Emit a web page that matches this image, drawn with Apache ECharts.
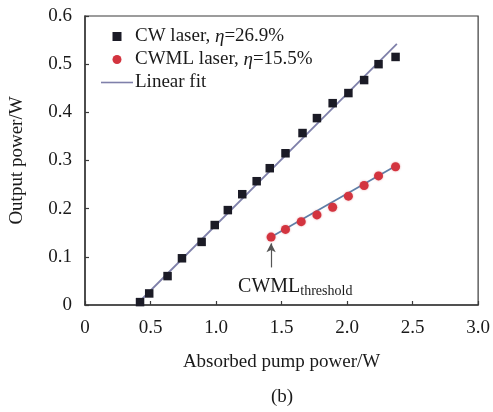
<!DOCTYPE html>
<html>
<head>
<meta charset="utf-8">
<script src="https://cdn.jsdelivr.net/npm/echarts@6/dist/echarts.min.js"></script>
<style>
  html, body { margin: 0; padding: 0; background: #fff; }
  #main { width: 493px; height: 412px; }
</style>
</head>
<body>
<div id="main"></div>
<script>
// CW laser 数据
var cwPump = [0.42, 0.49, 0.63, 0.74, 0.89, 0.99, 1.09, 1.20, 1.31, 1.41, 1.53, 1.66, 1.77, 1.89, 2.01, 2.13, 2.24, 2.37];
var cwPower = [0.006, 0.024, 0.060, 0.097, 0.131, 0.166, 0.197, 0.230, 0.257, 0.284, 0.315, 0.357, 0.388, 0.419, 0.440, 0.467, 0.500, 0.515];
// CWML laser 数据
var cwmlPump = [1.42, 1.53, 1.65, 1.77, 1.89, 2.01, 2.13, 2.24, 2.37];
var cwmlPower = [0.141, 0.157, 0.173, 0.187, 0.203, 0.226, 0.248, 0.268, 0.287];
// 线性拟合端点
var cwFitX = [0.39, 2.38];
var cwFitY = [0, 0.542];
var cwmlFitX = [1.42, 2.38];
var cwmlFitY = [0.141, 0.290];
// 阈值箭头
var arrowX = 1.42;
var arrowY = [0.078, 0.128];

var FONT = '"Liberation Serif", "Times New Roman", serif';
var AXIS_COLOR = '#3a3a3a';

function pairs(xs, ys) {
  return xs.map(function(x, i) { return [x, ys[i]]; });
}

var chart = echarts.init(document.getElementById('main'));

var legendText = {
  'CW': 'CW laser, {i|η}=26.9%',
  'CWML': 'CWML laser, {i|η}=15.5%',
  'Linear fit': 'Linear fit'
};

var option = {
  animation: false,
  textStyle: { fontFamily: FONT },
  grid: {
    left: 85, right: 13, top: 16, bottom: 107,
    show: true,
    borderColor: AXIS_COLOR,
    borderWidth: 1.2
  },
  legend: {
    orient: 'vertical',
    left: 96, top: 22,
    itemGap: 4,
    itemWidth: 32,
    itemHeight: 9,
    data: [
      { name: 'CW', icon: 'path://M0,0H10V10H0Z' },
      { name: 'CWML', icon: 'circle' },
      { name: 'Linear fit', icon: 'path://M0,0H60V3H0Z' }
    ],
    formatter: function(name) { return legendText[name]; },
    textStyle: {
      fontFamily: FONT, fontSize: 19, color: '#1a1a1a', padding: [0, 0, 0, -3],
      rich: { i: { fontFamily: FONT, fontSize: 19, fontStyle: 'italic', color: '#1a1a1a' } }
    }
  },
  xAxis: {
    type: 'value',
    min: 0, max: 3, interval: 0.5,
    name: 'Absorbed pump power/W',
    nameLocation: 'middle',
    nameGap: 48,
    nameTextStyle: { fontFamily: FONT, fontSize: 19, color: '#1a1a1a' },
    axisLine: { show: true, lineStyle: { color: AXIS_COLOR, width: 1.5 } },
    axisTick: { show: true, inside: true, length: 4, lineStyle: { color: AXIS_COLOR, width: 1.2 } },
    splitLine: { show: false },
    axisLabel: {
      fontFamily: FONT, fontSize: 19, color: '#1a1a1a', margin: 14,
      formatter: function(v) { return v === 0 ? '0' : v.toFixed(1); }
    }
  },
  yAxis: {
    type: 'value',
    min: 0, max: 0.6, interval: 0.1,
    name: 'Output power/W',
    nameLocation: 'middle',
    nameGap: 58,
    nameTextStyle: { fontFamily: FONT, fontSize: 19, color: '#1a1a1a' },
    axisLine: { show: true, lineStyle: { color: AXIS_COLOR, width: 1.5 } },
    axisTick: { show: true, inside: true, length: 4, lineStyle: { color: AXIS_COLOR, width: 1.2 } },
    splitLine: { show: false },
    axisLabel: {
      fontFamily: FONT, fontSize: 19, color: '#1a1a1a', margin: 13,
      formatter: function(v) { return v === 0 ? '0' : v.toFixed(1); }
    }
  },
  series: [
    {
      name: 'Linear fit',
      type: 'line',
      data: pairs(cwFitX, cwFitY),
      showSymbol: false,
      lineStyle: { color: '#7f80aa', width: 1.8 },
      itemStyle: { color: '#7f80aa' },
      z: 1
    },
    {
      name: 'Linear fit',
      type: 'line',
      data: pairs(cwmlFitX, cwmlFitY),
      showSymbol: false,
      lineStyle: { color: '#5f7fa8', width: 1.8 },
      itemStyle: { color: '#5f7fa8' },
      z: 1
    },
    {
      name: 'CW',
      type: 'scatter',
      data: pairs(cwPump, cwPower),
      symbol: 'rect',
      symbolSize: 8.5,
      itemStyle: { color: '#1b1b26', opacity: 1 },
      z: 3
    },
    {
      name: 'CWML',
      type: 'scatter',
      data: pairs(cwmlPump, cwmlPower),
      symbol: 'circle',
      symbolSize: 9,
      itemStyle: { color: '#d3343f', opacity: 1, shadowBlur: 2, shadowColor: 'rgba(211,52,63,0.5)' },
      z: 3,
      markLine: {
        silent: true,
        symbol: ['none', 'arrow'],
        symbolSize: [7, 9],
        label: { show: false },
        lineStyle: { color: '#555', width: 1.2, type: 'solid' },
        data: [[{ coord: [arrowX, arrowY[0]] }, { coord: [arrowX, arrowY[1]] }]]
      }
    }
  ]
};

chart.setOption(option);

// 阈值标注和图号
var anchor = chart.convertToPixel({ gridIndex: 0 }, [arrowX, arrowY[0]]);
chart.setOption({
  graphic: [
    {
      type: 'text',
      x: anchor[0] - 33,
      y: anchor[1] + 19,
      style: {
        text: 'CWML{s|threshold}',
        fontFamily: FONT, fontSize: 20, fill: '#1a1a1a',
        verticalAlign: 'middle',
        rich: { s: { fontFamily: FONT, fontSize: 14, fill: '#1a1a1a', padding: [9, 0, 0, 0] } }
      }
    },
    {
      type: 'text',
      left: 271,
      top: 388,
      style: { text: '(b)', fontFamily: FONT, fontSize: 19, fill: '#1a1a1a' }
    }
  ]
});
</script>
</body>
</html>
